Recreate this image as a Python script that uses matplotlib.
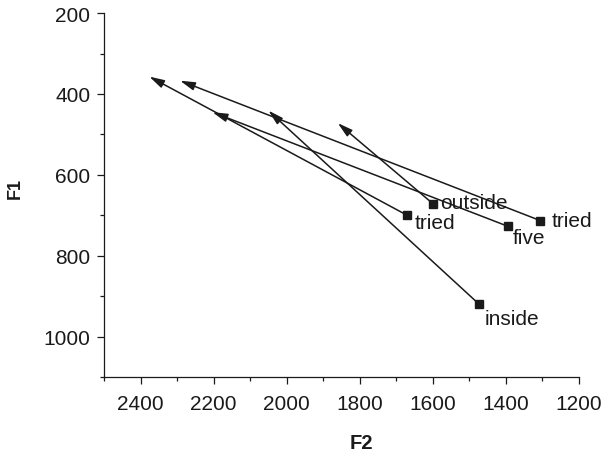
import matplotlib
matplotlib.use("Agg")
import matplotlib.pyplot as plt
from matplotlib.ticker import MultipleLocator

plt.rcParams['font.family'] = ['Liberation Sans', 'DejaVu Sans']

# vowel start points (F2, F1) and where each arrow ends
words = ["outside", "tried", "five", "tried", "inside"]
f2_start = [1600, 1670, 1395, 1306, 1473]
f1_start = [671, 700, 727, 713, 920]
f2_end = [1860, 2376, 2203, 2292, 2050]
f1_end = [472, 357, 445, 367, 441]

# label offsets in points (dx, dy)
offsets = [(5, 1), (5, -5), (4, -8), (8, 0), (4, -10)]

fig = plt.figure(figsize=(6.03, 4.56), dpi=100)
ax = fig.add_axes([0.1725, 0.171, 0.7875, 0.798])

ink = "#1a1a1a"
for w, x0, y0, x1, y1, off in zip(words, f2_start, f1_start, f2_end, f1_end, offsets):
    ax.annotate("", xy=(x1, y1), xytext=(x0, y0),
                arrowprops=dict(arrowstyle="-|>,head_length=0.9,head_width=0.25",
                                mutation_scale=10, color=ink, lw=1.1,
                                shrinkA=0, shrinkB=0))
    ax.plot(x0, y0, marker="s", ms=6, color=ink, ls="none", zorder=3)
    ax.annotate(w, (x0, y0), xytext=off, textcoords="offset points",
                ha="left", va="center", fontsize=15, color=ink)

ax.set_xlim(2500, 1200)
ax.set_ylim(1100, 200)
ax.xaxis.set_major_locator(MultipleLocator(200))
ax.xaxis.set_minor_locator(MultipleLocator(100))
ax.yaxis.set_major_locator(MultipleLocator(200))
ax.yaxis.set_minor_locator(MultipleLocator(100))
ax.set_yticks([200, 400, 600, 800, 1000])

for s in ["top", "right"]:
    ax.spines[s].set_visible(False)
for s in ["left", "bottom"]:
    ax.spines[s].set_linewidth(0.9)
    ax.spines[s].set_color(ink)

ax.tick_params(which="major", direction="out", length=5, width=0.9,
               labelsize=15, colors=ink, pad=5)
ax.tick_params(which="minor", direction="out", length=3, width=0.9, colors=ink)
ax.tick_params(axis="x", which="major", pad=7)

ax.set_xlabel("F2", fontsize=14.5, fontweight="bold", color=ink)
ax.set_ylabel("F1", fontsize=13, fontweight="bold", color=ink)
ax.xaxis.set_label_coords(0.543, -0.155)
ax.yaxis.set_label_coords(-0.168, 0.52)

fig.savefig("out.png", dpi=100)
